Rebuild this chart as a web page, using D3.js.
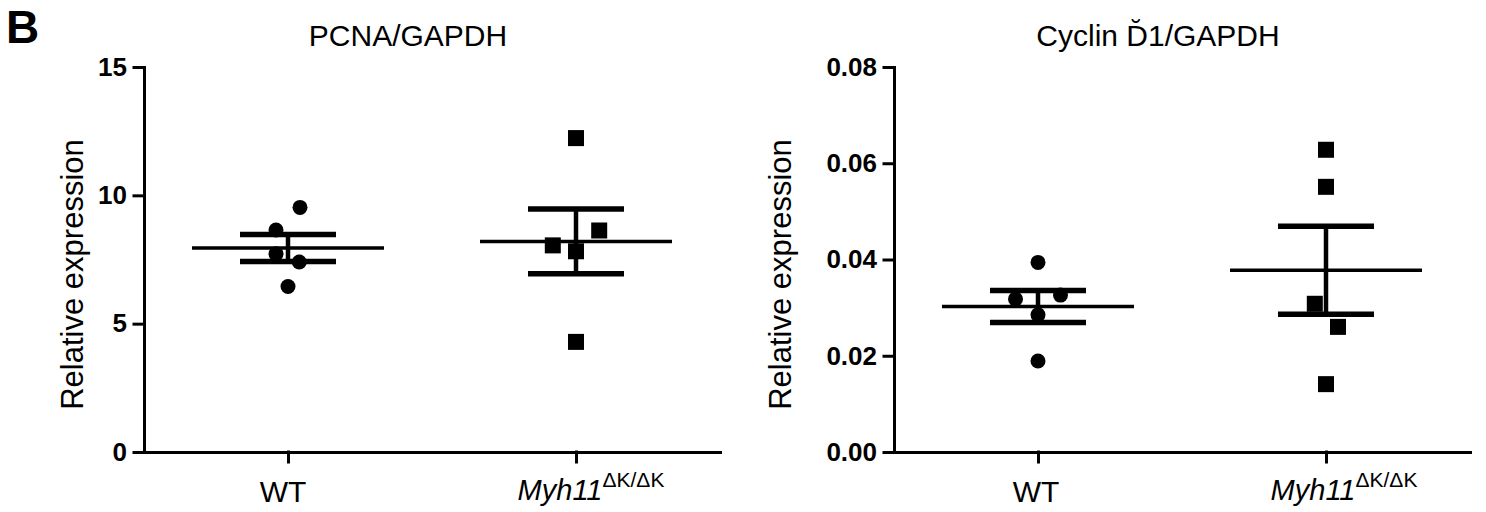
<!DOCTYPE html>
<html>
<head>
<meta charset="utf-8">
<script src="https://cdn.jsdelivr.net/npm/d3@7"></script>
<style>
  body { margin: 0; background: #fff; }
  svg text { font-family: "Liberation Sans", Arial, sans-serif; fill: #000; }
</style>
</head>
<body>
<div id="fig"></div>
<script>
// groups on the x axis
const groups = ["WT", "Myh11"]

// PCNA/GAPDH values
const pcnaWT  = [9.53, 8.65, 7.72, 7.40, 6.45]
const pcnaMyh = [12.23, 8.63, 8.05, 7.82, 4.29]
const pcnaTicks = [0, 5, 10, 15]

// Cyclin D1/GAPDH values
const cyclinWT  = [0.0394, 0.0318, 0.0326, 0.0285, 0.0189]
const cyclinMyh = [0.0628, 0.0551, 0.0308, 0.0260, 0.0141]
const cyclinTicks = [0, 0.02, 0.04, 0.06, 0.08]

// horizontal spread of the symbols, in symbol widths (layout only)
const spreadPcnaWT    = [0.8, -0.8, -0.8, 0.75, 0]
const spreadPcnaMyh   = [0, 1.45, -1.45, 0, 0]
const spreadCyclinWT  = [0, -1.5, 1.5, 0, 0]
const spreadCyclinMyh = [0, 0, -0.7, 0.75, 0]

const W = 1486, H = 512
const top_y = 67, bottom_y = 452

const svg = d3.select("#fig")
  .append("svg")
    .attr("width", W)
    .attr("height", H)

svg.append("text")
  .attr("x", 6)
  .attr("y", 43)
  .style("font-size", "46px")
  .style("font-weight", "bold")
  .text("B")

const mean = a => d3.mean(a)
const sem = a => d3.deviation(a) / Math.sqrt(a.length)

function drawPanel(cfg) {
  const g = svg.append("g")

  const x = d3.scalePoint()
    .domain(groups)
    .range([cfg.x0, cfg.x1])
    .padding(0.5)

  const y = d3.scaleLinear()
    .domain([cfg.ticks[0], cfg.ticks[cfg.ticks.length - 1]])
    .range([bottom_y, top_y])

  // y axis
  const ya = g.append("g")
    .attr("transform", `translate(${cfg.x0},0)`)
    .call(d3.axisLeft(y).tickValues(cfg.ticks).tickSize(10).tickSizeOuter(0)
      .tickPadding(7).tickFormat(cfg.fmt))
  ya.selectAll("path, line")
    .attr("stroke", "#000")
    .attr("stroke-width", 3)
    .attr("stroke-linecap", "square")
  ya.selectAll("text")
    .style("font-size", "26px")
    .style("font-weight", "bold")
    .attr("fill", "#000")

  // x axis
  const xa = g.append("g")
    .attr("transform", `translate(0,${bottom_y})`)
    .call(d3.axisBottom(x).tickSize(10).tickSizeOuter(0).tickFormat(""))
  xa.selectAll("path, line")
    .attr("stroke", "#000")
    .attr("stroke-width", 3)
    .attr("stroke-linecap", "square")

  // x labels
  g.append("text")
    .attr("x", x("WT"))
    .attr("dx", cfg.wtShift)
    .attr("y", 502)
    .attr("text-anchor", "middle")
    .style("font-size", "30px")
    .text("WT")

  const lab = g.append("text")
    .attr("x", x("Myh11"))
    .attr("dx", cfg.myhShift)
    .attr("y", 500)
    .attr("text-anchor", "middle")
    .style("font-size", "29px")
  lab.append("tspan").style("font-style", "italic").text("Myh11")
  lab.append("tspan").attr("dy", -13).style("font-size", "21px").text("\u0394K/\u0394K")

  // y label
  g.append("text")
    .attr("transform", `translate(${cfg.x0 - cfg.ylabOff},${(top_y + bottom_y) / 2 + 15}) rotate(-90)`)
    .attr("text-anchor", "middle")
    .style("font-size", "31px")
    .text("Relative expression")

  // title
  g.append("text")
    .attr("x", (cfg.x0 + cfg.x1) / 2 - 24)
    .attr("y", 46)
    .attr("text-anchor", "middle")
    .style("font-size", "30px")
    .text(cfg.title)

  // points
  const wt = cfg.wt.map((v, i) => ({v: v, s: cfg.spreadWT[i]}))
  const myh = cfg.myh.map((v, i) => ({v: v, s: cfg.spreadMyh[i]}))

  g.append("g").selectAll("circle")
    .data(wt)
    .join("circle")
      .attr("cx", d => x("WT") + d.s * 15)
      .attr("cy", d => y(d.v))
      .attr("r", 7.5)
      .attr("fill", "#000")

  g.append("g").selectAll("rect")
    .data(myh)
    .join("rect")
      .attr("x", d => x("Myh11") + d.s * 16 - 8)
      .attr("y", d => y(d.v) - 8)
      .attr("width", 16)
      .attr("height", 16)
      .attr("fill", "#000")

  // mean +/- SEM
  const stats = [["WT", cfg.wt], ["Myh11", cfg.myh]].map(d => ({
    k: d[0], m: mean(d[1]), e: sem(d[1])
  }))

  const eb = g.append("g").selectAll("g")
    .data(stats)
    .join("g")

  eb.append("line")
    .attr("x1", d => x(d.k) - 96).attr("x2", d => x(d.k) + 96)
    .attr("y1", d => y(d.m)).attr("y2", d => y(d.m))
    .attr("stroke", "#000").attr("stroke-width", 3.5)
  eb.append("line")
    .attr("x1", d => x(d.k)).attr("x2", d => x(d.k))
    .attr("y1", d => y(d.m + d.e)).attr("y2", d => y(d.m - d.e))
    .attr("stroke", "#000").attr("stroke-width", 4.5)
  eb.selectAll(".cap")
    .data(d => [{k: d.k, v: d.m + d.e}, {k: d.k, v: d.m - d.e}])
    .join("line")
      .attr("class", "cap")
      .attr("x1", d => x(d.k) - 48).attr("x2", d => x(d.k) + 48)
      .attr("y1", d => y(d.v)).attr("y2", d => y(d.v))
      .attr("stroke", "#000").attr("stroke-width", 5.5)
}

drawPanel({
  x0: 144, x1: 720, ticks: pcnaTicks, fmt: d3.format("d"),
  wt: pcnaWT, myh: pcnaMyh, spreadWT: spreadPcnaWT, spreadMyh: spreadPcnaMyh,
  title: "PCNA/GAPDH", ylabOff: 61, myhShift: 15, wtShift: -5
})

drawPanel({
  x0: 894, x1: 1470, ticks: cyclinTicks, fmt: d3.format(".2f"),
  wt: cyclinWT, myh: cyclinMyh, spreadWT: spreadCyclinWT, spreadMyh: spreadCyclinMyh,
  title: "Cyclin D\u03061/GAPDH", ylabOff: 103, myhShift: 18, wtShift: -2
})
</script>
</body>
</html>
